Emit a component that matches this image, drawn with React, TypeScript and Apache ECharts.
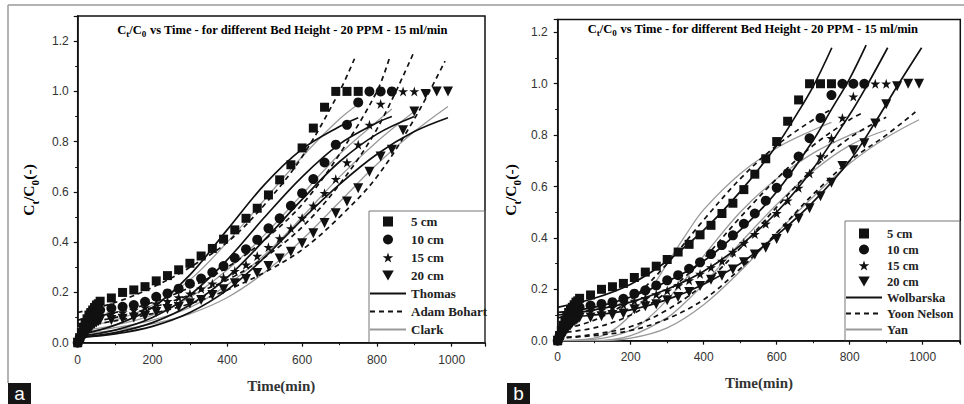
import React, { useEffect, useRef } from "react";
import * as echarts from "echarts";

// ---- experimental data (time in min, Ct/C0) ----
const timeMin = [0, 5, 10, 15, 20, 25, 30, 35, 40, 45, 50, 55, 60, 90, 120, 150, 180, 210, 240, 270, 300, 330, 360, 390, 420, 450, 480, 510, 540, 570, 600, 630, 660, 690, 720, 750, 780, 810, 840, 870, 900, 930, 960, 990];
const bed5 = [0, 0.02, 0.04, 0.06, 0.08, 0.095, 0.11, 0.12, 0.13, 0.14, 0.15, 0.155, 0.165, 0.178, 0.2, 0.21, 0.223, 0.246, 0.267, 0.29, 0.316, 0.345, 0.375, 0.412, 0.449, 0.495, 0.535, 0.588, 0.648, 0.708, 0.775, 0.854, 0.937, 1, 1, 1];
const bed10 = [0, 0.015, 0.03, 0.045, 0.06, 0.07, 0.08, 0.09, 0.1, 0.11, 0.12, 0.125, 0.13, 0.137, 0.143, 0.15, 0.163, 0.183, 0.196, 0.215, 0.235, 0.255, 0.28, 0.305, 0.337, 0.372, 0.41, 0.455, 0.495, 0.545, 0.595, 0.651, 0.717, 0.788, 0.867, 0.956, 1, 1, 1];
const bed15 = [0, 0.01, 0.025, 0.04, 0.05, 0.06, 0.07, 0.08, 0.09, 0.095, 0.1, 0.105, 0.11, 0.115, 0.12, 0.13, 0.14, 0.155, 0.165, 0.18, 0.195, 0.215, 0.235, 0.26, 0.285, 0.31, 0.345, 0.38, 0.415, 0.455, 0.496, 0.545, 0.595, 0.651, 0.717, 0.788, 0.867, 0.95, 1, 1, 1];
const bed20 = [0, 0.005, 0.015, 0.025, 0.035, 0.045, 0.055, 0.06, 0.07, 0.075, 0.08, 0.085, 0.09, 0.09, 0.095, 0.1, 0.106, 0.122, 0.134, 0.142, 0.157, 0.17, 0.19, 0.213, 0.237, 0.253, 0.277, 0.305, 0.335, 0.362, 0.396, 0.436, 0.476, 0.515, 0.562, 0.615, 0.68, 0.741, 0.768, 0.845, 0.92, 0.99, 1, 1];

// ---- model curves, panel a ----
const thomasT5 = [0, 100, 200, 300, 400, 500, 600, 700, 750];
const thomas5 = [0.03, 0.07, 0.14, 0.27, 0.45, 0.63, 0.77, 0.86, 0.895];
const thomasT10 = [0, 100, 200, 300, 400, 500, 600, 700, 800, 840];
const thomas10 = [0.025, 0.05, 0.1, 0.19, 0.33, 0.5, 0.66, 0.79, 0.875, 0.9];
const thomasT15 = [0, 100, 200, 300, 400, 500, 600, 700, 800, 900];
const thomas15 = [0.02, 0.04, 0.08, 0.15, 0.26, 0.41, 0.57, 0.72, 0.83, 0.9];
const thomasT20 = [0, 100, 200, 300, 400, 500, 600, 700, 800, 900, 990];
const thomas20 = [0.02, 0.035, 0.065, 0.12, 0.21, 0.34, 0.49, 0.63, 0.75, 0.84, 0.895];

const bohartT5 = [0, 100, 200, 300, 400, 500, 600, 700, 740];
const bohart5 = [0.12, 0.16, 0.22, 0.3, 0.4, 0.55, 0.74, 1.0, 1.13];
const bohartT10 = [0, 100, 200, 300, 400, 500, 600, 700, 800, 835];
const bohart10 = [0.09, 0.12, 0.16, 0.22, 0.3, 0.41, 0.55, 0.75, 1.0, 1.14];
const bohartT15 = [0, 100, 200, 300, 400, 500, 600, 700, 800, 897];
const bohart15 = [0.075, 0.1, 0.14, 0.19, 0.25, 0.34, 0.46, 0.63, 0.85, 1.15];
const bohartT20 = [0, 100, 200, 300, 400, 500, 600, 700, 800, 900, 982];
const bohart20 = [0.065, 0.087, 0.116, 0.155, 0.21, 0.28, 0.37, 0.5, 0.66, 0.89, 1.12];

const clarkT5 = [0, 100, 200, 300, 400, 500, 600, 700, 760];
const clark5 = [0.06, 0.09, 0.15, 0.25, 0.4, 0.57, 0.74, 0.89, 0.96];
const clarkT10 = [0, 100, 200, 300, 400, 500, 600, 700, 800, 840];
const clark10 = [0.045, 0.07, 0.11, 0.18, 0.29, 0.43, 0.59, 0.75, 0.88, 0.93];
const clarkT15 = [0, 100, 200, 300, 400, 500, 600, 700, 800, 900];
const clark15 = [0.04, 0.06, 0.09, 0.14, 0.23, 0.35, 0.5, 0.66, 0.8, 0.92];
const clarkT20 = [0, 100, 200, 300, 400, 500, 600, 700, 800, 900, 990];
const clark20 = [0.035, 0.05, 0.075, 0.115, 0.18, 0.28, 0.41, 0.56, 0.71, 0.84, 0.94];

// ---- model curves, panel b ----
const wolbT5 = [0, 100, 200, 300, 400, 500, 600, 650, 700, 751];
const wolb5 = [0.13, 0.165, 0.22, 0.31, 0.43, 0.58, 0.76, 0.87, 0.99, 1.14];
const wolbT10 = [0, 100, 200, 300, 400, 500, 600, 700, 750, 800, 845];
const wolb10 = [0.11, 0.13, 0.17, 0.23, 0.31, 0.43, 0.58, 0.78, 0.9, 1.02, 1.15];
const wolbT15 = [0, 100, 200, 300, 400, 500, 600, 700, 800, 850, 904];
const wolb15 = [0.1, 0.12, 0.15, 0.2, 0.27, 0.37, 0.5, 0.67, 0.88, 1.0, 1.14];
const wolbT20 = [0, 100, 200, 300, 400, 500, 600, 700, 800, 870, 930, 997];
const wolb20 = [0.09, 0.1, 0.12, 0.16, 0.22, 0.3, 0.41, 0.54, 0.7, 0.85, 0.99, 1.14];

const yoonT5 = [0, 100, 200, 300, 400, 500, 600, 700, 750];
const yoon5 = [0.04, 0.08, 0.16, 0.3, 0.47, 0.63, 0.76, 0.86, 0.9];
const yoonT10 = [0, 100, 200, 300, 400, 500, 600, 700, 800, 840];
const yoon10 = [0.03, 0.05, 0.1, 0.19, 0.32, 0.48, 0.63, 0.76, 0.86, 0.89];
const yoonT15 = [0, 100, 200, 300, 400, 500, 600, 700, 800, 900];
const yoon15 = [0.01, 0.025, 0.055, 0.12, 0.22, 0.36, 0.52, 0.67, 0.79, 0.87];
const yoonT20 = [0, 100, 200, 300, 400, 500, 600, 700, 800, 900, 980];
const yoon20 = [0.01, 0.02, 0.04, 0.085, 0.16, 0.28, 0.42, 0.57, 0.7, 0.8, 0.89];

const yanT5 = [0, 100, 150, 200, 250, 300, 350, 400, 500, 600, 700, 750];
const yan5 = [0, 0.01, 0.04, 0.1, 0.19, 0.3, 0.41, 0.51, 0.65, 0.75, 0.82, 0.85];
const yanT10 = [0, 100, 200, 250, 300, 350, 400, 500, 600, 700, 800, 840];
const yan10 = [0, 0.005, 0.04, 0.09, 0.16, 0.24, 0.33, 0.5, 0.63, 0.73, 0.8, 0.82];
const yanT15 = [0, 100, 200, 300, 350, 400, 450, 500, 600, 700, 800, 900];
const yan15 = [0, 0, 0.02, 0.09, 0.15, 0.22, 0.3, 0.38, 0.53, 0.66, 0.76, 0.82];
const yanT20 = [0, 100, 200, 300, 400, 500, 600, 700, 800, 900, 990];
const yan20 = [0, 0, 0.01, 0.05, 0.14, 0.27, 0.42, 0.56, 0.69, 0.79, 0.86];

const bedNames = ["5 cm", "10 cm", "15 cm", "20 cm"];
const legendA = ["5 cm", "10 cm", "15 cm", "20 cm", "Thomas", "Adam Bohart", "Clark"];
const legendB = ["5 cm", "10 cm", "15 cm", "20 cm", "Wolbarska", "Yoon Nelson", "Yan"];

const pairs = (t: number[], v: number[]) => v.map((y, i) => [t[i], y]);

const SQUARE = "path://M0,0L10,0L10,10L0,10Z";
const STAR = "path://M5,0L6.18,3.62L10,3.62L6.91,5.85L8.09,9.47L5,7.24L1.91,9.47L3.09,5.85L0,3.62L3.82,3.62Z";
const TRI = "path://M0,0L10,0L5,8.66Z";
const symbols = [SQUARE, "circle", STAR, TRI];
const symSizes = [9, 10, 10, 10];
const bedData = [bed5, bed10, bed15, bed20];

const SERIF = "'Liberation Serif', 'Times New Roman', serif";
const SANS = "'Liberation Sans', Arial, sans-serif";

function scatterSeries(idx: number) {
  return bedData.map((vals, i) => ({
    type: "scatter",
    name: bedNames[i],
    xAxisIndex: idx,
    yAxisIndex: idx,
    data: pairs(timeMin, vals),
    symbol: symbols[i],
    symbolSize: symSizes[i],
    itemStyle: { color: "#111", opacity: 1 },
    z: 5,
  }));
}

function lineSeries(idx: number, name: string, ts: number[][], vs: number[][], style: any) {
  return vs.map((v, i) => ({
    type: "line",
    name,
    xAxisIndex: idx,
    yAxisIndex: idx,
    data: pairs(ts[i], v),
    symbol: "none",
    showSymbol: false,
    smooth: 0.35,
    lineStyle: { color: style.color, width: style.width, type: style.type },
    itemStyle: { color: style.color, opacity: 0 },
    z: style.z || 3,
  }));
}

const solid = { color: "#111", width: 1.7, type: "solid" };
const dashed = { color: "#111", width: 1.7, type: [5, 4] };
const grey = { color: "#9a9a9a", width: 1.3, type: "solid", z: 2 };

function xAxis(gridIndex: number, max: number, margin: number, gap: number) {
  return {
    type: "value",
    gridIndex,
    min: 0,
    max,
    interval: 200,
    name: "Time(min)",
    nameLocation: "middle",
    nameGap: gap,
    nameTextStyle: { fontFamily: SERIF, fontWeight: "bold", fontSize: 15, color: "#333" },
    axisLine: { show: true, onZero: false, lineStyle: { color: "#111", width: 1.5 } },
    axisTick: { show: true, length: 4, lineStyle: { color: "#111", width: 1.2 } },
    minorTick: { show: true, splitNumber: 2, length: 2.5, lineStyle: { color: "#111", width: 1 } },
    axisLabel: {
      margin,
      fontFamily: SANS,
      fontSize: 12,
      color: "#333",
      formatter: (v: number) => (v % 200 === 0 ? String(v) : ""),
    },
    splitLine: { show: false },
  };
}

function yAxis(gridIndex: number, max: number, margin: number) {
  return {
    type: "value",
    gridIndex,
    min: 0,
    max,
    interval: 0.2,
    axisLine: { show: true, onZero: false, lineStyle: { color: "#111", width: 1.5 } },
    axisTick: { show: true, length: 4, lineStyle: { color: "#111", width: 1.2 } },
    minorTick: { show: true, splitNumber: 2, length: 2.5, lineStyle: { color: "#111", width: 1 } },
    axisLabel: {
      margin,
      fontFamily: SANS,
      fontSize: 12,
      color: "#333",
      formatter: (v: number) => (Math.abs(v * 5 - Math.round(v * 5)) < 1e-6 ? v.toFixed(1) : ""),
    },
    splitLine: { show: false },
  };
}

function legend(left: number, top: number, gap: number, fontSize: number, data: string[]) {
  return {
    orient: "vertical",
    left,
    top,
    padding: 0,
    itemWidth: 36,
    itemHeight: 10,
    itemGap: gap,
    selectedMode: false,
    textStyle: { fontFamily: SERIF, fontWeight: "bold", fontSize, color: "#222" },
    data,
  };
}

const titleRich = (size: number, sub: number, lh: number) => ({
  a: { fontFamily: SERIF, fontWeight: "bold", fontSize: size, color: "#3a3a3a", lineHeight: size + 1, verticalAlign: "top" },
  s: { fontFamily: SERIF, fontWeight: "bold", fontSize: sub, color: "#3a3a3a", lineHeight: sub - 2, verticalAlign: "bottom" },
  h: { fontSize: 1, lineHeight: lh },
});

const titleText = "{a|C}{s|t}{a|/C}{s|0}{h| }{a| vs Time - for different Bed Height - 20 PPM - 15 ml/min}";
const yNameText = "{a|C}{s|t}{a|/C}{s|0}{h| }{a|(-)}";

function panelLabel(x: number, txt: string) {
  return [
    { type: "rect", shape: { x, y: 383, width: 23, height: 21 }, style: { fill: "#151515" } },
    {
      type: "text",
      x: x + 11.5,
      y: 393.5,
      style: { text: txt, fill: "#fff", font: "19px 'Liberation Sans', Arial, sans-serif", align: "center", verticalAlign: "middle" },
    },
  ];
}

const option: any = {
  animation: false,
  backgroundColor: "#fff",
  grid: [
    { left: 77.7, top: 16, width: 407.3, height: 326.7, show: true, borderColor: "#111", borderWidth: 1.5, backgroundColor: "transparent" },
    { left: 557.7, top: 19.5, width: 402.6, height: 321.2, show: true, borderColor: "#111", borderWidth: 1.5, backgroundColor: "transparent" },
  ],
  xAxis: [xAxis(0, 1089, 11, 36), xAxis(1, 1103, 10, 35)],
  yAxis: [yAxis(0, 1.3, 9), yAxis(1, 1.25, 10)],
  legend: [legend(369, 215, 5, 13, legendA), legend(845, 227, 3, 12.5, legendB)],
  graphic: [
    { type: "line", shape: { x1: 8, y1: 5, x2: 964, y2: 5 }, style: { stroke: "#9a9a9a", lineWidth: 1.5 } },
    { type: "line", shape: { x1: 8, y1: 5, x2: 8, y2: 383 }, style: { stroke: "#9a9a9a", lineWidth: 1.5 } },
    { type: "rect", shape: { x: 369, y: 211, width: 116, height: 132 }, style: { fill: "none", stroke: "#777", lineWidth: 1 } },
    { type: "rect", shape: { x: 845, y: 221, width: 115, height: 120 }, style: { fill: "none", stroke: "#777", lineWidth: 1 } },
    { type: "text", x: 282.5, y: 31, style: { text: titleText, rich: titleRich(12.5, 9, 15), align: "center", verticalAlign: "middle" } },
    { type: "text", x: 753, y: 30, style: { text: titleText, rich: titleRich(12.5, 9, 15), align: "center", verticalAlign: "middle" } },
    { type: "text", x: 30, y: 190, rotation: Math.PI / 2, style: { text: yNameText, rich: titleRich(15.5, 11, 20), align: "center", verticalAlign: "middle" } },
    { type: "text", x: 512, y: 190, rotation: Math.PI / 2, style: { text: yNameText, rich: titleRich(15.5, 11, 20), align: "center", verticalAlign: "middle" } },
    ...panelLabel(8, "a"),
    ...panelLabel(507, "b"),
  ],
  series: [
    ...lineSeries(0, "Clark", [clarkT5, clarkT10, clarkT15, clarkT20], [clark5, clark10, clark15, clark20], grey),
    ...lineSeries(0, "Thomas", [thomasT5, thomasT10, thomasT15, thomasT20], [thomas5, thomas10, thomas15, thomas20], solid),
    ...lineSeries(0, "Adam Bohart", [bohartT5, bohartT10, bohartT15, bohartT20], [bohart5, bohart10, bohart15, bohart20], dashed),
    ...scatterSeries(0),
    ...lineSeries(1, "Yan", [yanT5, yanT10, yanT15, yanT20], [yan5, yan10, yan15, yan20], grey),
    ...lineSeries(1, "Wolbarska", [wolbT5, wolbT10, wolbT15, wolbT20], [wolb5, wolb10, wolb15, wolb20], solid),
    ...lineSeries(1, "Yoon Nelson", [yoonT5, yoonT10, yoonT15, yoonT20], [yoon5, yoon10, yoon15, yoon20], dashed),
    ...scatterSeries(1),
  ],
};

export default function App() {
  const ref = useRef<HTMLDivElement>(null);
  useEffect(() => {
    if (!ref.current) return;
    const chart = echarts.init(ref.current, null, { renderer: "svg" });
    chart.setOption(option);
    return () => chart.dispose();
  }, []);
  return (
    <div
      ref={ref}
      style={{ position: "fixed", left: 0, top: 0, width: 964, height: 404, background: "#fff" }}
    />
  );
}
